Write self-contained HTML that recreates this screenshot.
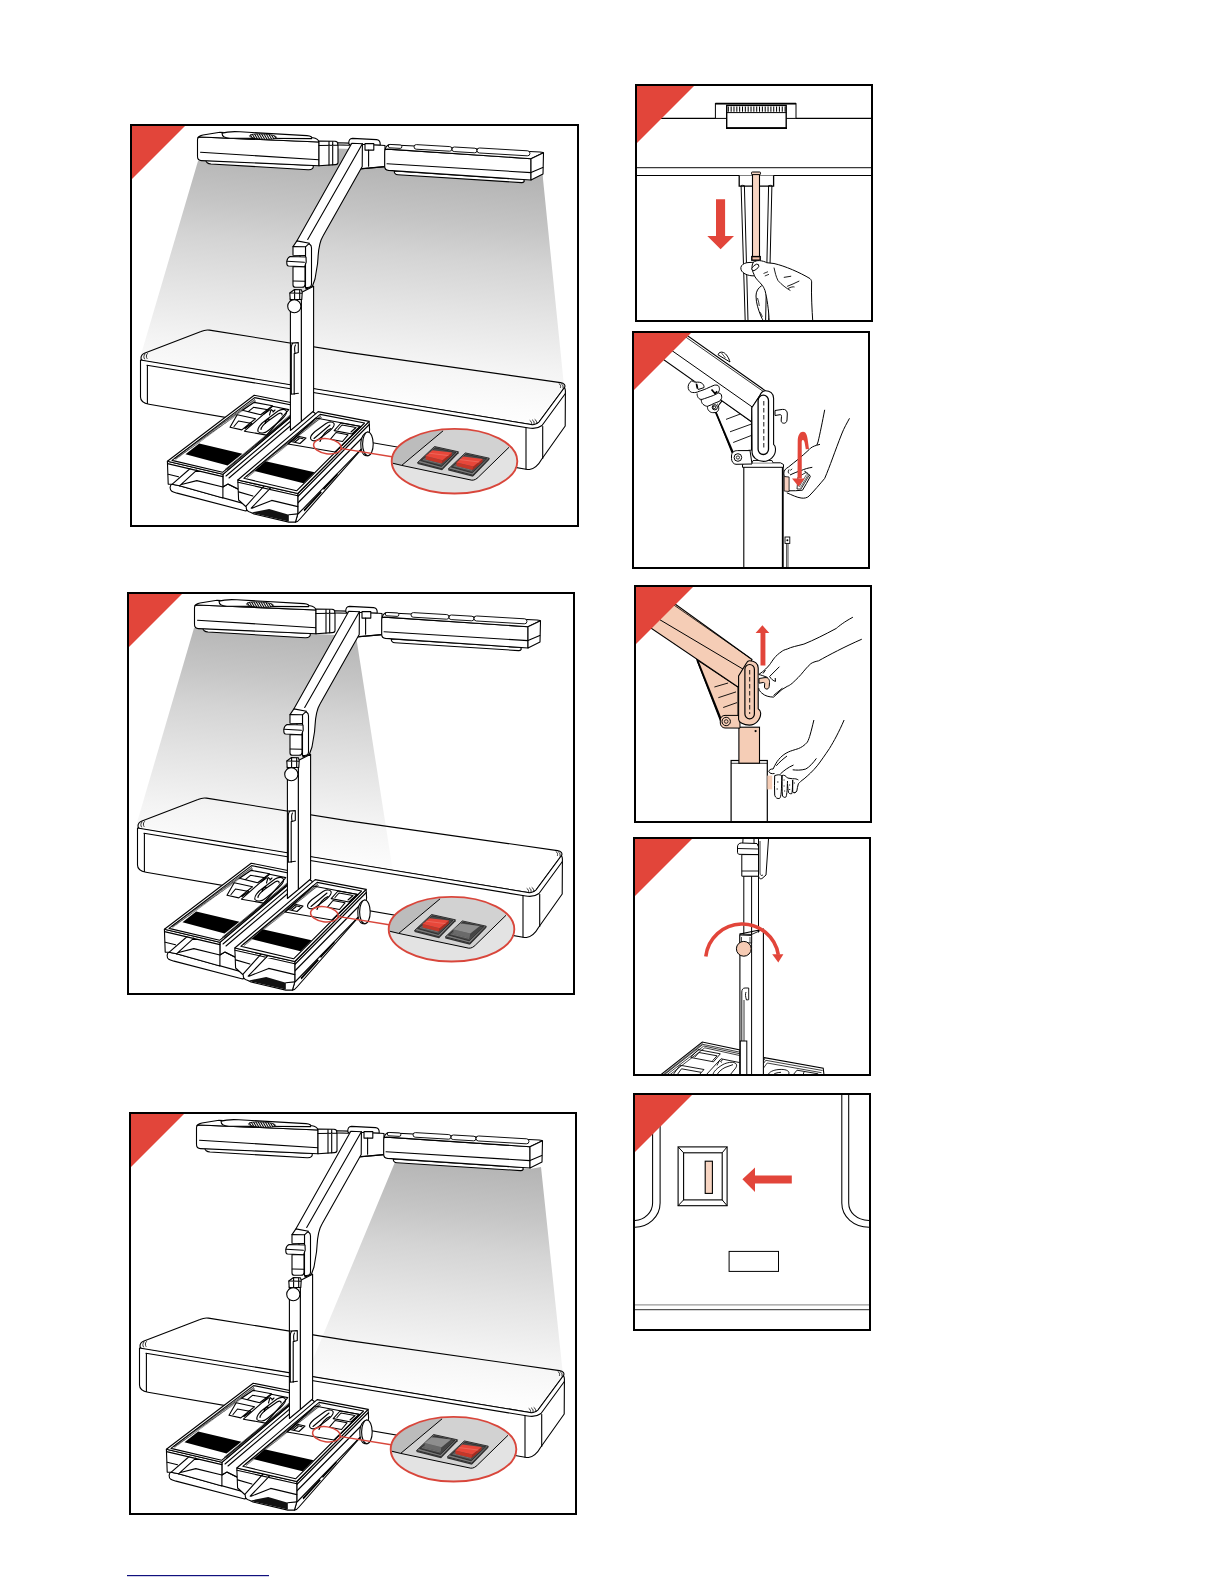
<!DOCTYPE html>
<html><head><meta charset="utf-8"><title>Manual page</title>
<style>
html,body{margin:0;padding:0;background:#fff;width:1224px;height:1584px;overflow:hidden;font-family:"Liberation Sans",sans-serif}
svg{position:absolute;left:0;top:0}
.k{fill:none;stroke:#000;stroke-width:1.1;stroke-linejoin:round;stroke-linecap:round}
.w{fill:#fff;stroke:#000;stroke-width:1.1;stroke-linejoin:round;stroke-linecap:round}
.t{fill:none;stroke:#000;stroke-width:0.8;stroke-linecap:round}
.b{fill:#000;stroke:none}
.frame{fill:none;stroke:#000;stroke-width:2}
.red{fill:#e2453a}
</style></head>
<body>
<svg width="1224" height="1584" viewBox="0 0 1224 1584">
<defs>
 <linearGradient id="lg" gradientUnits="userSpaceOnUse" x1="230" y1="40" x2="207.5" y2="290">
  <stop offset="0" stop-color="#b4b4b4"/>
  <stop offset="0.2" stop-color="#c5c5c5"/>
  <stop offset="0.344" stop-color="#d4d4d4"/>
  <stop offset="0.544" stop-color="#e4e4e4"/>
  <stop offset="0.64" stop-color="#ebebeb"/>
  <stop offset="0.76" stop-color="#f4f4f4"/>
  <stop offset="0.92" stop-color="#fcfcfc"/>
  <stop offset="1" stop-color="#ffffff"/>
 </linearGradient>
 <pattern id="hp" patternUnits="userSpaceOnUse" width="1.6" height="4" patternTransform="rotate(20)"><rect width="1.6" height="4" fill="#fff"/><rect width="0.8" height="4" fill="#000"/></pattern>
 <clipPath id="rc"><rect x="1" y="1" width="236" height="236"/></clipPath>
 <!--DEVICE-->
 <g id="dev">
  <!-- TABLE top outline (transparent top surface) -->
  <path class="k" d="M11,234 C11,231.5 12.5,230 15,229 L71,207.5 C73.5,206.3 76.5,205.6 79.5,206.1 L220,228.6 L430.5,258.6 C434,259.2 435.8,261 434.5,263.5 L409,298 C407,300.5 404,301 401,300.5 L15,237.4 C12.5,237 11,236 11,234 Z"/>
  <!-- TABLE front + right side faces -->
  <path class="w" d="M10.5,236 L401,300.5 C404,301 407,300.5 409,298 L434.5,263.5 C435.3,265 435.5,266.5 435.4,268 L435.2,302 L411.5,335.5 C408.5,341 405,344.5 399.5,345.5 L397.5,345.5 L19,280.2 C14,279.4 10.5,277.5 10.5,273 Z"/>
  <path class="k" d="M17,241.2 L398.8,304 C403,304.8 408,304.5 412,301.5 L435.2,269.7"/>
  <path class="k" d="M17.4,241.5 L17.4,279.5"/>
  <path class="k" d="M396,304 L396,345"/>
  <path class="k" d="M412.7,302.5 L412.7,334.5"/>
  <path class="t" d="M429,259.5 C430.5,260.5 431,262 430.5,263.5 M431.5,259.9 C433,261 433.5,262.5 433,264 M400,296.5 C401.5,297.5 402,299 401.5,300.5 M402.5,296 C404,297 404.5,298.5 404,300 M405,295.5 C406.5,296.5 407,298 406.5,299.5 M15,230 C13.5,231.5 13.5,233.5 14.5,235 M17.5,229.5 C16,231 16,233 17,234.5"/>

  <!-- LEFT LAMP -->
  <path class="w" d="M76,36 L183,41.5 C184,44 182,46 178,45.7 L81,40 C78,39.7 75.5,38.2 76,36 Z"/>
  <path class="w" d="M67.5,15.5 C67.5,13.8 68.7,12.9 70.5,13 L189,18 L189,41.7 L71.5,36.6 C69,36.5 67.5,35 67.5,32.5 Z"/>
  <path class="w" d="M67.8,13.8 C68.5,12.3 70.5,11.4 73,11 L90,8.2 L183,13.8 C186,14.1 188.3,15.8 189,18 L70.5,13 Z"/>
  <path class="k" d="M70.5,28.2 L189,35.7"/>
  <path class="w" d="M92,9.2 C97,7.6 103,7.4 110,7.8 L177,11.6 C181,11.9 182.5,13.3 181.5,14.6 L100,14.2 C95,14 92,12.5 92,9.2 Z"/>
  <ellipse cx="133" cy="12.6" rx="13.6" ry="2.7" fill="url(#hp)" stroke="#000" stroke-width="0.8" transform="rotate(3.4 133 12.6)"/>
  <!-- left lamp end cap -->
  <path class="w" d="M189,17 L205,17.2 C207,17.3 208,18.5 208,20 L208,38.5 C208,39.8 207,40.5 205.5,40.6 L189,41.7 Z"/>
  <path class="k" d="M199,17.5 L199,41 M202.7,17.8 L202.7,40.8 M189,21.5 L207.5,21.2"/>
  <!-- connector left -->
  <path class="w" d="M207.8,18.8 L219.5,19.1 L219.5,21.2 L207.8,20.9 Z"/>

  <!-- HUB -->
  <path class="w" d="M228,44.8 L232.4,20 L255,21.5 L255,42.6 L232,44.6 Z" stroke="none"/>
  <path class="k" d="M228.6,39.5 L228.6,45.3 L232.5,44.8 L255,42.6"/>
  <path class="w" d="M218.8,19.5 C218.6,16.2 219.8,14.4 222.5,14.4 L246.5,15.6 C248.8,15.8 250.2,17.5 250.2,20 L250.2,21 L218.8,20 Z"/>
  <rect class="w" x="235" y="19.6" width="8.8" height="6.5"/>
  <path class="k" d="M238.6,26.1 L238.6,42.3"/>
  <!-- RIGHT LAMP -->
  <path class="w" d="M264.3,47 L393.5,55.5 C395,57 394,58.7 391.5,58.6 L268,50.7 C265.5,50.5 264,49 264.3,47 Z"/>
  <path class="w" d="M254.7,27.5 C254.7,25.8 255.8,25 257.5,25.1 L401,34.7 L401,56 L258.5,46.4 C256.3,46.2 254.7,44.8 254.7,42.5 Z"/>
  <path class="w" d="M255,25.5 C255.5,23.4 256.8,21.5 258.5,20.7 L410,28 C412,28.2 413.5,28.5 413.5,28.8 L401,34.7 L257.5,25.1 Z"/>
  <path class="w" d="M401,34.7 L413.5,28.8 L413,50 L401,56 Z"/>
  <path class="k" d="M257,39.8 L401,48.6 L412.8,43.5"/>
  <rect x="258.3" y="20.7" width="13.6" height="3.4" rx="1.7" fill="#fff" stroke="#000" stroke-width="0.9" transform="rotate(3.2 265 22.4)"/>
  <rect x="284" y="21.6" width="38" height="4.6" rx="2.3" fill="#fff" stroke="#000" stroke-width="0.9" transform="rotate(3.4 303 23.9)"/>
  <rect x="322" y="23.6" width="25" height="4.6" rx="2.3" fill="#fff" stroke="#000" stroke-width="0.9" transform="rotate(3.4 334.5 25.9)"/>
  <rect x="347" y="25.4" width="53" height="5" rx="2.5" fill="#fff" stroke="#000" stroke-width="0.9" transform="rotate(3.4 373.5 27.9)"/>

  <!-- ARM -->
  <path class="w" d="M221.8,19.3 L232.4,19.8 L232.2,42.5 L193,112 C190,117 188.5,124 188,134 L187.5,140 L185,155 L182.3,162.5 L176,165 L167.1,116.5 Z"/>
  <path class="k" d="M232.4,19.8 L177.7,115.4"/>
  <!-- elbow clamp -->
  <path class="w" d="M175.5,121 C176.5,119.8 178.5,119.5 180,120.5 C181,121.2 181.5,122.5 181.5,124 L181.5,160 C181.5,162.5 179.5,163.5 177.5,163.5 L175.5,163.5 Z"/>
  <path class="w" d="M163,122.6 L166.9,116.9 L179.5,119.2 L175.5,122.8 L175.5,131.5 L163,131.2 Z"/>
  <path class="k" d="M163,122.6 L175.5,122.8"/>
  <path class="w" d="M163,142.5 L175,142.8 L175,160.5 C175,162.5 174,163.3 172,163.3 L165.5,163.3 C164,163.3 163,162.3 163,161 Z"/>
  <path class="k" d="M163.3,157 L174.7,157.3"/>
  <path class="w" d="M156.8,137.5 C157,135 158.2,133.4 160,132.5 L176,133 L176.2,138 L174.6,142.8 L158.5,142 C157.4,141.8 156.8,140.5 156.8,139 Z"/>
  <path class="k" d="M157.2,137.3 L174.4,138.2"/>

  <!-- LEFT TRAY -->
  <!-- base strip between trays -->
  <path class="w" d="M92.9,350.3 L174.6,281.3 L186,290 L110,360 L108,365 L97.8,360.1 L92.9,363 Z"/>
  <path class="k" d="M96,352 L176,284 M99,354 L178.5,286.5"/>
  <!-- long bottom bar -->
  <path class="w" d="M42,360.3 C39.8,361 39.3,365.5 41.8,367.3 C43,368.2 45,368.6 47,369.1 L114.7,386.8 C116.8,387.2 118.5,386 118.3,384 L117.6,380.6 L49.5,361.8 Z"/>
  <!-- front face -->
  <path class="w" d="M37.4,337.2 L92.9,350.3 L92.9,374 L49.5,361.8 L42,360.3 L38.2,360.1 Z"/>
  <path class="k" d="M37.5,339.6 L92.9,352.6 M38.2,350.3 L48.5,352.8 M60.2,344.5 L42,360.3 M66.8,346.1 L49.5,361.8 M51.5,360.5 L66.8,356.6 L92.9,363 L97.8,360.1 L107.6,365"/>
  <!-- top face -->
  <path class="w" d="M37.4,337.2 L124.2,271.2 L174.6,281.3 L92.9,350.3 Z"/>
  <path class="k" d="M42,336.4 L124.6,273.6 L171.5,283 L92.6,348.3 Z"/>
  <path d="M45.3,334.9 L125.4,276.5" stroke="#222" stroke-width="2" stroke-dasharray="0.7 0.5" fill="none"/><path d="M44,334.6 L125,275.2" stroke="#000" stroke-width="0.6" fill="none"/>
  <path d="M95,345.5 L167,285.2 M97,345.8 L168.5,285.9" stroke="#000" stroke-width="0.6" fill="none"/>
  <path class="b" d="M55.5,330.2 L69.2,319.4 L112.4,329.7 L97.6,341.5 Z"/>
  <!-- compartments left tray -->
  <path class="k" d="M112.4,286.3 L124.2,278.4 L142.5,281.7 L130.7,290.8 Z M118.3,287.6 L123.5,283.3 L139.5,286 L134,290"/>
  <path class="k" d="M100,303.3 L107.2,290.8 L125.5,294.8 L111.8,305.9 Z M104,302.5 L108.5,297 L122,299.5 L115,304.5"/>
  <path class="k" d="M114.4,307.2 L142.5,282.3 L158.8,285.6 L136.6,311.1 Z"/>
  <path class="k" d="M128,307.5 C127,305 130,300 136,296 L148,287 C152,284.5 156,285 156.5,287.5 C157,289.5 155,292.5 151,296 L139,306 C135,309.5 130,310 128,307.5 Z M131,305.5 C131,303 134,300 138,297 L148,290 C150.5,288.5 152.5,289 152,291 M135.5,299.5 C134.5,298 136,296 139,295"/>
  <path class="k" d="M139.5,291 L141,285.5 L143,287 M143,288 L145,286"/>
  <!-- POLE -->
  <path class="w" d="M171.3,168.5 L183.6,162.3 L183.6,287 L171.3,297.5 Z"/>
  <path class="w" d="M160.4,174 L171.3,174 L171.3,297.5 L160.4,306.5 Z"/>
  <path class="w" d="M159.8,169 L164.5,165.5 L171.5,165.8 L172.2,168.5 L171.8,175.5 L160.2,175.5 Z"/><path class="k" d="M164.6,166 V175.5 M169.7,166 V175.5 M160,169 L171.8,169.3"/>
  <circle class="w" cx="164.3" cy="182.2" r="6.6"/>
  <path class="k" d="M163.5,219 C162,219.5 161.3,221.5 161.3,224 L161.3,270 M161.3,219 L168.3,218.6 L168.3,228.5 L165,229.5 C164.5,226 164,223 165.5,221 M164.2,229.5 L164.2,270.5 M161.3,270.2 L168.4,269.3"/>

  <!-- RIGHT TRAY -->
  <!-- right side face -->
  <path class="w" d="M167.8,369.5 L239.1,297.4 L239.6,306 C239.6,308 239,309.5 238,311 L234.8,321.3 L170,395 C168.5,397 167,398 165.4,398.1 L167.8,389.9 Z"/>
  <path class="k" d="M167.8,372.5 L239.3,300.5 M167.8,379 L236,310 M168.5,389.5 L234.8,321.3"/>
  <path class="b" d="M173.5,385.8 L190.7,367 L191.8,368.5 L174.5,387.4 Z M193,364.5 L207,349.5 L207.9,350.8 L193.9,366 Z"/>
  <!-- front -->
  <path class="w" d="M107.8,356 L167.8,369.5 L167.8,389.9 L165.4,398.1 L158.8,398.1 L124,390 L120.4,388.3 C117.5,387.5 116,385.5 116.3,383 L108.6,376 Z"/>
  <path d="M122,388.4 L139.2,385 L158.8,390.7 L158.8,397.6 L124,389.6 Z" fill="#111"/>
  <path class="k" d="M108,358.2 L167.8,371.8 M108.6,367.9 L122.9,372 M133.5,362.6 L116.3,381.8 M140.4,364.2 L121.2,384.2 M122.1,384.2 L141.7,376.4 L167.8,382.6 M158.8,390.7 L167.8,389.9"/>
  <!-- top face -->
  <path class="w" d="M107.8,356 L188.2,287.6 L239.1,297.4 L167.8,369.5 Z"/>
  <path class="k" d="M113.8,354.3 L190.2,290.4 L234.6,299 L166.6,366.8 Z"/>
  <path d="M116.8,352.9 L191.4,292.8" stroke="#222" stroke-width="2" stroke-dasharray="0.7 0.5" fill="none"/><path d="M115.8,352.5 L190.9,291.8" stroke="#000" stroke-width="0.6" fill="none"/>
  <path class="b" d="M124.5,347.1 L135.5,337.3 L184.6,348.3 L173.5,359.3 Z"/>
  <!-- compartments right tray -->
  <path class="k" d="M158,320 L186,294 L231,302.5 L205,328 Z"/>
  <path class="w" d="M181,315.5 C179.5,313.5 181,311 185,307.5 L196,299.5 C199.5,297.3 203,297.5 204,299.5 C205,301.5 203,304 199.5,307 L189,315 C186,317.3 182.5,317.5 181,315.5 Z"/>
  <path class="k" d="M184,314.5 L200,301"/>
  <path class="k" d="M190,317.5 C192,311 197,306 201,304.5"/>
  <path class="w" d="M161,317.5 L167,312 L176,314 L170,319.5 Z"/>
  <path class="k" d="M163.5,317 L167.5,313.5 L173,314.8 M165,318 L169,314.8"/>
  <path class="k" d="M204.2,306.6 L211,299 L229.9,302.3 L222,310 Z M208,305.5 L212,301 L226,303.5 L221,308"/>
  <path class="k" d="M200.5,315.2 L206,308.5 L218,310.8 L212.5,317.5 Z"/>
  <!-- knob cylinder on right of right tray -->
  <path class="w" d="M237.7,308 C234,308.5 231,313 230.8,319 C230.6,325.5 232.5,331 236,331.8 L238,331.8 Z"/>
  <ellipse class="w" cx="237.9" cy="319.9" rx="5.3" ry="11.9"/>
 </g>
 <!--/DEVICE-->
 <!--CALLOUT-->
 <clipPath id="cc"><ellipse cx="324.5" cy="337.2" rx="62.3" ry="31.8"/></clipPath>
 <g id="callout">
  <path d="M210.5,324.4 L262,332.8" stroke="#d8463b" stroke-width="1.4" fill="none"/>
  <ellipse cx="197.4" cy="322.3" rx="13.9" ry="7.5" transform="rotate(8 197.4 322.3)" fill="none" stroke="#d8463b" stroke-width="1.5"/>
  <g clip-path="url(#cc)">
   <rect x="255" y="300" width="140" height="75" fill="#e3e3e3"/>
   <path d="M313.1,306.8 L318,298 L395,298 L395,316.5 L379,323.3 L348.5,353 C346.5,355 344.5,356.3 341.8,356.2 L271.7,341.4 Z" fill="#d2d2d2"/>
   <path d="M250,296 L318,296 L313.1,306.8 L271.7,341.4 L255,339 Z" fill="#bcbcbc"/>
   <path d="M262.7,339.2 L271.7,341.4 L341.8,356.2 C344.5,356.3 346.5,355 348.5,353 L379,323.3" fill="none" stroke="#000" stroke-width="1"/>
   <path d="M313.1,306.8 L271.7,341.4" fill="none" stroke="#000" stroke-width="1"/>
  </g>
  <ellipse cx="324.5" cy="337.2" rx="62.8" ry="32.3" fill="none" stroke="#d8463b" stroke-width="1.9"/>
 </g>
 <g id="swbase">
  <path d="M287.5,338.5 L304.5,322.5 L328.5,327.8 L312,344.8 Z" fill="#7a7a7a" stroke="#111" stroke-width="0.8" stroke-linejoin="round"/>
  <path d="M287.5,338.5 L312,344.8 L312,346.3 L287.5,340 Z" fill="#333"/>
  <path d="M312,344.8 L328.5,327.8 L328.5,329.3 L312,346.3 Z" fill="#222"/>
  <path d="M290.5,336.6 L305,323.8 L326,328.4 L311.4,342.4 Z" fill="#4a4a4a" stroke="#111" stroke-width="0.6"/>
  <path d="M293,335.5 L311.2,340 M294.5,334.5 L311.2,338.6" stroke="#999" stroke-width="0.5" fill="none"/>
 </g>
 <g id="swOn">
  <use href="#swbase"/>
  <path d="M295.5,332 L312.5,336.2 L311.8,339.6 L295.8,335.6 Z" fill="#c63628"/>
  <path d="M312.5,336.2 L322,328.5 L321.6,331.6 L311.8,339.6 Z" fill="#a82a1e"/>
  <path d="M295.5,332 L302.5,326.2 L322,328.5 L312.5,336.2 Z" fill="#e8473a"/>
  <path d="M299,329.2 L318.5,331.6" stroke="#f07a6e" stroke-width="0.6" fill="none"/>
 </g>
 <g id="swOff">
  <use href="#swbase"/>
  <path d="M295.5,331 L312.5,335.2 L311.8,339.6 L295.8,335.6 Z" fill="#6a6a6a"/>
  <path d="M312.5,335.2 L322,327.5 L321.6,331.6 L311.8,339.6 Z" fill="#444"/>
  <path d="M295.5,331 L302.5,325.2 L322,327.5 L312.5,335.2 Z" fill="#8e8e8e"/>
 </g>
 <!--/CALLOUT-->
</defs>

<!-- ===== Panel 1 ===== -->
<g transform="translate(130,124)">
 <path d="M68,37 L76,36.5 L76,20 L400,31 L412,33 L413,55 L434,262 L402,304 L10,234 Z" fill="url(#lg)"/>
 <use href="#dev"/>
 <use href="#callout"/><use href="#swOn"/><use href="#swOn" transform="translate(30.8,6.4)"/>
</g>
<!-- ===== Panel 2 ===== -->
<g transform="translate(127,592)">
 <path d="M67,36 L189,42 L229,44 L266,280 L9,234 Z" fill="url(#lg)"/>
 <use href="#dev"/>
 <use href="#callout"/><use href="#swOn"/><use href="#swOff" transform="translate(30.8,6.4)"/>
</g>
<!-- ===== Panel 3 ===== -->
<g transform="translate(129,1112)">
 <path d="M265.6,51 L401,57 L412,55 L434,263 L404,304 L177,264 Z" fill="url(#lg)"/>
 <use href="#dev"/>
 <use href="#callout"/><use href="#swOff"/><use href="#swOn" transform="translate(30.8,6.4)"/>
</g>

<!--RIGHT-->
<!-- ===== R1 ===== -->
<g transform="translate(635,84)" clip-path="url(#rc)">
 <path d="M2,34.4 H80.4 M161,34.4 H236" stroke="#000" stroke-width="1.1" fill="none"/>
 <rect x="80.4" y="19.6" width="80.6" height="14.8" fill="#fff" stroke="#000" stroke-width="1"/>
 <path d="M80.4,19.6 H161" stroke="#000" stroke-width="1.8"/>
 <rect x="91.7" y="21.4" width="59.5" height="22.7" fill="#fff" stroke="#000" stroke-width="1.4"/>
 <path d="M91,44.1 H152" stroke="#000" stroke-width="1.8"/>
 <path d="M91.5,28.6 H151.4" stroke="#000" stroke-width="1"/>
 <path stroke="#000" stroke-width="1.05" d="M93.30,22.4v5.4M96.14,22.4v5.4M98.98,22.4v5.4M101.82,22.4v5.4M104.66,22.4v5.4M107.50,22.4v5.4M110.34,22.4v5.4M113.18,22.4v5.4M116.02,22.4v5.4M118.86,22.4v5.4M121.70,22.4v5.4M124.54,22.4v5.4M127.38,22.4v5.4M130.22,22.4v5.4M133.06,22.4v5.4M135.90,22.4v5.4M138.74,22.4v5.4M141.58,22.4v5.4M144.42,22.4v5.4M147.26,22.4v5.4M150.10,22.4v5.4"/>
 <path d="M2,83.7 H236" stroke="#3a3a3a" stroke-width="1.3"/>
 <path d="M2,91.5 H236" stroke="#000" stroke-width="1.05"/>
 <path d="M104.2,91.5 V102.1 H138.6 V91.5" fill="#fff" stroke="#000" stroke-width="1.3"/>
 <path d="M106.1,102 L110.2,237 M109.4,102 L113,237 M136.9,102 L133.7,237 M133.6,102 L130.6,237" stroke="#000" stroke-width="1" fill="none"/>
 <path d="M105.5,102.3 C106,101 109,101 110,102.3 M133,102.3 C134,101 137,101 137.6,102.3" stroke="#000" stroke-width="0.9" fill="none"/>
 <rect x="117.5" y="89.2" width="7" height="86" fill="#f8d5c2" stroke="#000" stroke-width="1.1"/>
 <rect x="116.5" y="88" width="9" height="2.6" rx="0.8" fill="#f8d5c2" stroke="#000" stroke-width="1"/>
 <rect x="116.8" y="172.6" width="8.4" height="3.6" fill="#f2c0a8" stroke="#000" stroke-width="1.4"/>
 <path d="M81,115.2 H90.1 V152.1 H99 L85.6,165.2 L72.3,152.1 H81 Z" fill="#e2453a"/>
 <!-- hand -->
 <path d="M117,191.8 C114,191.6 110.4,190.6 108,188.5 C105.8,186.7 105.2,183.8 106.5,181.8 C108,179.6 111,178.6 114,178.5 L118,178.3 C120,177.2 122.5,176.4 124.3,176.6 C127,176.8 130,177.6 131.7,178.7 L139,179.5 C150,182 165,188.5 175,194.6 C176.5,196 176.8,197.5 176.6,199 C176.2,212 177,226 177.8,238 L134.2,238 C133.8,226 132,214 130,206.5 C128.9,203.5 128,202.5 127.6,201.6 C124,197.5 121,195 119.4,191.8 Z" fill="#fff" stroke="#000" stroke-width="1"/>
 <path d="M118.5,178.3 C116.8,180 116.6,184 117.6,187 C118.5,189.8 119.5,191 119.4,191.8" stroke="#000" stroke-width="1" fill="none"/>
 <ellipse cx="120.3" cy="183.4" rx="4.2" ry="2.2" transform="rotate(-40 120.3 183.4)" fill="#fff" stroke="#000" stroke-width="0.9"/>
 <path d="M126.8,201.6 C123,204 121,207.5 121,212 C121,219 123.5,226 125.5,231 C126.5,233.5 127.5,235.5 128.4,237" stroke="#000" stroke-width="1" fill="none"/>
 <path d="M122.5,214 C123.5,217 124,219.5 124.3,222 M124.8,228 C126,229.5 127,231 127.2,233" stroke="#000" stroke-width="0.8" fill="none"/>
 <path d="M139,183.6 C140,188 141,193 143.1,196.7 C147,201 151,204 155.4,206.5 M148.8,193.4 L156.2,192.2 M152.1,202.4 C156,201 160,199 164.3,197 M153,204.5 C156,203 158,202.5 159.5,203" stroke="#000" stroke-width="0.9" fill="none"/>
 <path d="M128.5,189.5 L133,187.7 M129.8,192 L134,190.3" stroke="#000" stroke-width="0.8" fill="none"/>
</g>

<!-- ===== R2 ===== -->
<g transform="translate(632,331)" clip-path="url(#rc)">
 <!-- pole -->
 <rect x="111.8" y="135.3" width="39.2" height="103" fill="#fff" stroke="#000" stroke-width="1.1"/>
 <path d="M150.6,136 V236" stroke="#000" stroke-width="1.5"/>
 <path d="M110.5,133.5 L113,131.8 H148.5 L151.5,133.5 V136.3 H110.5 Z" fill="#fff" stroke="#000" stroke-width="1"/>
 <path d="M120,131.8 L121,129.5 H140 L141,131.8" fill="#fff" stroke="#000" stroke-width="0.9"/>
 <rect x="153" y="206" width="4.8" height="6.4" fill="#fff" stroke="#000" stroke-width="0.9"/>
 <circle cx="155.4" cy="209.2" r="1" fill="#000"/>
 <path d="M154.6,212.7 V236 M156,212.7 V236" stroke="#000" stroke-width="0.7"/>
 <!-- brace -->
 <path d="M83,79 L90.2,69.6 L119.5,90.7 L119.5,119 L100,121.6 Z" fill="#fff" stroke="#000" stroke-width="1.1"/>
 <path d="M83.5,80.6 L100.8,121.2" stroke="#000" stroke-width="1.8"/>
 <path d="M94,88.4 L108.1,83.1 M98,100.8 L119,93.2 M101.2,111.5 L119,104.6" stroke="#000" stroke-width="0.9"/>
 <!-- arm -->
 <path d="M46,-2 L133.4,59.7 L127.7,64.8 L119.8,76.8 L119.5,90.7 L2,7.7 L2,-2 Z" fill="#fff" stroke="#000" stroke-width="1.1"/>
 <path d="M46,0.6 L132.3,61.2" stroke="#000" stroke-width="0.8"/>
 <path d="M16,2.8 L125.8,79.9" stroke="#000" stroke-width="1"/>
 <path d="M86,23.8 C86.5,21.5 89,20.5 91.5,21.5 C94,22.5 97,27 98,31 Z" fill="#fff" stroke="#000" stroke-width="1"/>
 <path d="M89.5,22 L93.5,27" stroke="#000" stroke-width="0.7"/>
 <!-- hand on arm -->
 <path fill="#fff" stroke="none" d="M59.8,49.8 L64,51 L72,53 L82.3,54.2 L87.2,59.6 L89.7,66.5 L87.2,70.4 L86.7,76.3 L85.3,80.7 L80.4,81.6 L76.4,79.2 L75.5,75.3 L71,73.3 L69.1,68.9 L65.2,62.5 L60.7,61.5 L56.3,57.6 Z"/>
 <path stroke="#000" stroke-width="1" fill="none" d="M59.8,49.8 C57,51.5 55.6,54.5 56.3,57.6 C57.2,60.3 59,61.5 60.7,61.5 C63,61.8 65,61.3 66.6,60.6 M59.8,49.8 C61,50.5 62.5,51.2 63.7,51.3 C66,50.8 69,51.2 70.5,52.7 C71.8,54 72.2,55.5 72,56.6 M64.2,52.5 C64.8,54.5 65.5,57 66.2,58.5 L72,56.6 M66.1,60.6 C70,59.5 72.5,58.5 74.5,57.6 C77,56.5 80,55 82.3,54.2 C84.5,53.8 86.2,54.2 86.7,55.2 C87.6,57 87.6,58.5 87.2,59.6 C86.8,61 86,62 85.3,62.5 C83.5,63.3 82.5,64 81.3,64.5 C77,66 73,67.5 70,68.4 C68.5,68.6 67,68 66.1,66.5 C65.2,65 65,63.5 65.2,62.5 M69.1,68.9 C69.5,71 70,72.5 71,73.3 C72.5,74.5 74,75.3 75.5,75.3 C78,74.5 80.5,73.2 82.3,72.3 C84,71.5 86,71 87.2,70.4 C88.5,69.5 89.5,68 89.7,66.5 C89.8,64.5 89.2,63 88.2,62.5 C87,62 86,61.9 85.3,62 M75.5,75.3 C75.3,77 75.7,78.3 76.4,79.2 C77.5,80.7 79,81.6 80.4,81.6 C82.5,81.8 84.5,81.5 85.3,80.7 C86.5,79.5 86.9,78 86.7,76.3 C86.5,74.5 86,73.2 85.3,72.8"/>
 <path stroke="#000" stroke-width="1.7" fill="none" d="M79.5,58.5 L83,62.5 L85.2,60.3 M64.5,53 L65.5,57.5"/>
 <circle cx="82.8" cy="76.3" r="2.6" fill="none" stroke="#000" stroke-width="1"/>
 <circle cx="82.3" cy="76.3" r="1.3" fill="none" stroke="#000" stroke-width="1"/>
 <!-- pivot plate -->
 <path d="M99.5,125 C99.5,121.5 102,119.6 105.5,119.6 L118,119.6 L120,133 L104,133.3 C101.5,133.3 99.5,130.5 99.5,127.5 Z" fill="#fff" stroke="#000" stroke-width="1"/>
 <circle cx="105.9" cy="126.5" r="3.8" fill="#fff" stroke="#000" stroke-width="1"/>
 <circle cx="105.9" cy="126.5" r="1.6" fill="none" stroke="#000" stroke-width="0.8"/>
 <!-- joint capsule -->
 <path d="M127.7,64.8 C129,61.5 131,59.7 133.4,59.7 C138,59.7 141.6,62.5 141.6,67.3 L141.6,113.4 C143,114.5 143.6,116.5 143.5,118.4 C143.5,125 138,130.4 131.5,130.4 C125,130.4 120.1,126 120.1,121.6 L119.8,76.8 Z" fill="#fff" stroke="#000" stroke-width="1.1"/>
 <rect x="126.1" y="64.2" width="10.4" height="59.3" rx="5.2" fill="#fff" stroke="#000" stroke-width="1.3"/>
 <path d="M131.8,70 V118" stroke="#000" stroke-width="0.9" stroke-dasharray="4.5 2.5"/>
 <!-- hook -->
 <path d="M143,79.5 L150.5,78.4 C153.5,78 155.5,80 155.3,83 L155,89 C154.8,91.5 153,92.5 151.5,92.2 C150,92 149,91 149.2,89 L149.5,85.5 C149.6,84.3 149,83.6 148,83.7 L143,84.5 Z" fill="#fff" stroke="#000" stroke-width="1"/>
 <!-- right hand -->
 <path d="M192.7,78.8 C190.5,90 188,103 186,111 L184.8,114.1 C182,115 178.5,116.5 177,118.7 C173.5,122 170,125 166.5,128 C163.5,130.5 160,133 156.5,136 C153.5,137.5 151.5,140 151.8,143 C152.3,145.5 153.5,146.5 154.8,147 L154.8,161.8 C160,164 165,166.5 169.1,167 C172,167.5 175,167 177,165.1 C182,160 188,153 192.7,147.4 C198,135 203,120 209.7,103 C212,97 215,92 217.5,87.3 Z" fill="#fff" stroke="none"/>
 <path d="M192.7,78.8 C190.5,90 188,103 186,111 L184.8,114.1 M188,113.3 L184.6,114.3 C182,115 178.5,116.5 177,118.7 C173.5,122 170,125 166.5,128 C163.5,130.5 160,133 156.5,136 C153.5,137.5 151.5,140 151.8,143 C152.3,145.5 153.5,146.5 154.8,147 M217.5,87.3 C215,92 212,97 209.7,103 C203,120 198,135 192.7,147.4 C188,153 182,160 177,165.1 C175,167 172,167.5 169.1,167 C165,166.5 160,164 154.8,161.8 M180.3,136.3 C176,137 172.5,138 169.1,139.6 C166,140.5 162,142 158,144 M172.4,140.2 C175,141.5 177.5,143.5 178.3,145.5 C176,150 173,155 170.5,159.2 C166,159.6 161,160 156.1,159.8 M157,138.5 C156,140 156,141.5 157,142.5 M158.3,139.5 L160,137.8" stroke="#000" stroke-width="1" fill="none"/>
 <path d="M152.2,145.5 L157.1,146 L157.1,160.5 L152.2,160 Z" fill="#f8d0c0" stroke="#000" stroke-width="0.8"/>
 <path d="M166,146 L174,141.5 L177,144.5 L169,158 L165,158 Z" fill="#fff" stroke="#000" stroke-width="0.8"/>
 <path d="M167,156 L174.5,143.5 M168.5,156.5 L175.8,144.3" stroke="#000" stroke-width="0.6"/>
 <!-- red U arrow -->
 <path d="M165.5,147.6 L165.7,110 C165.8,104 168,100.7 171,100.7 C174,100.7 175,104 175.6,108 L177,118 L173.8,118.3 L172.6,111.5 C172.2,109.6 171.6,108.9 170.8,108.9 C170,108.9 169.7,110 169.7,112 L169.8,147.6 Z" fill="#e2453a"/>
 <path d="M160,147.4 L172.7,147.4 L166.5,155.5 Z" fill="#e2453a"/>
</g>

<!-- ===== R3 ===== -->
<g transform="translate(634,585)" clip-path="url(#rc)">
 <!-- pole lower -->
 <rect x="97.1" y="175.5" width="36.2" height="62" fill="#fff" stroke="#000" stroke-width="1.2"/>
 <path d="M97.1,178.3 H133.3" stroke="#000" stroke-width="0.8"/>
 <!-- pole upper -->
 <rect x="104.9" y="142.2" width="20.6" height="36" fill="#f5cdb6" stroke="#000" stroke-width="1.1"/>
 <circle cx="121.6" cy="146.1" r="1.1" fill="#000"/>
 <!-- brace -->
 <path d="M62.7,74.5 L104,102 L104,133.3 L86.3,135.3 Z" fill="#f5cdb6" stroke="#000" stroke-width="1.1"/>
 <path d="M63.5,75.5 L87.2,135" stroke="#000" stroke-width="1.9"/>
 <path d="M80.4,102 L94.1,98 M84.3,112.7 L102,106.9 M89.2,122.5 L103,117.6" stroke="#000" stroke-width="0.9"/>
 <!-- arm -->
 <path d="M12,-2 L118,74.5 L104,102 L2,33 L2,-2 Z" fill="#f5cdb6" stroke="#000" stroke-width="1.1"/>
 <path d="M13,1.3 L116,73" stroke="#000" stroke-width="0.8"/>
 <path d="M12,26.5 L112.7,86.3" stroke="#000" stroke-width="1"/>
 <!-- pivot plate -->
 <path d="M86.3,135 C86.3,132.3 88.3,130.4 91,130.4 L105.9,130.4 L106,143.1 L91,143 C88.3,143 86.3,140.5 86.3,138 Z" fill="#f5cdb6" stroke="#000" stroke-width="1"/>
 <circle cx="92.2" cy="136.5" r="4.2" fill="#f5cdb6" stroke="#000" stroke-width="1"/>
 <circle cx="92.2" cy="136.5" r="1.8" fill="none" stroke="#000" stroke-width="0.8"/>
 <!-- joint capsule -->
 <path d="M112.8,77.6 C113.5,76.3 114.5,75.7 115.4,75.7 C120.5,75.7 124.2,78.5 124.2,83 L124.2,123.7 C125.8,124.8 126.7,126.3 126.7,128.1 C126.7,134.8 121.5,140.1 115.4,140.1 C109.5,140.1 104.6,137 104.6,134.4 L104.6,90.9 Z" fill="#f5cdb6" stroke="#000" stroke-width="1.1"/>
 <rect x="110.9" y="79.5" width="9.5" height="54.3" rx="4.75" fill="#f5cdb6" stroke="#000" stroke-width="1.2"/>
 <path d="M115.7,85 V129" stroke="#000" stroke-width="0.9" stroke-dasharray="4.5 2.5"/>
 <!-- red arrow up -->
 <path d="M126.5,80.4 V48 H121.6 L128.4,40.2 L135.3,48 H131.4 V80.4 Z" fill="#e2453a"/>
 <!-- upper hand -->
 <path fill="#fff" stroke="none" d="M218.9,32.2 L202.3,43.4 L169.9,59.1 L153.3,64 L148.4,66 L140.5,72.8 L135.6,79.7 L128.7,86.6 L124.8,89.5 L124.8,103.2 L127.8,108.1 L139.5,112.1 L148,104.5 L153.3,101.3 L158.2,98.3 L167,89.5 L176.8,78.7 L184.6,75.8 L227.8,54.2 L240,40 L240,20 Z"/>
 <path stroke="#000" stroke-width="1" fill="none" d="M218.9,32.2 C210,37 205,41 202.3,43.4 C190,50 180,55 169.9,59.1 C163,61 157,62 153.3,64 C150,65 149,65.5 148.4,66 C144,69 142,71 140.5,72.8 C138,76 137,78 135.6,79.7 C133,83 130,85.5 128.7,86.6 L124.8,89.5 C127,90 130,91 133.6,92.5 M227.8,54.2 C210,62 195,70 184.6,75.8 C181,76.5 178.5,77.5 176.8,78.7 C173,82 170,86 167,89.5 C163,94 160,96.5 158.2,98.3 C156,100 154.5,101 153.3,101.3 L148,104.5 L139.5,112.1 C135,112 131,111 127.8,108.1 C126,106.5 125,105 124.8,103.2 M145.4,81.7 L135.6,91.5 C137,94 139.5,96 141.5,96.4 L141.2,93 M148.4,103.2 L139.5,110.5 M131.5,85 L129,88.5"/>
 <!-- hook (front of hand) -->
 <path d="M125,93.5 L131,92.6 C134,92.2 135.8,94.5 135.5,97.5 L135.2,101.5 C135,103.5 133.5,104.3 132.2,104 C131,103.7 130.3,102.8 130.5,101 L130.7,99 C130.8,98 130.2,97.4 129.3,97.5 L125,98.2 Z" fill="#f5cdb6" stroke="#000" stroke-width="1"/>
 <!-- lower hand -->
 <path fill="#fff" stroke="none" d="M179.9,135 L173.4,157.1 L164.4,163.6 L154.6,166.9 L146.4,172.6 L140.7,180.8 L139.1,184 L134.5,187 L140.7,190.6 L140.7,210.2 L145.6,213.4 L148.5,211 L152.1,211.8 L154.6,207.7 L157.9,208.5 L158.7,206.9 L161.9,206.9 L162.8,206.1 L164.4,198.7 L170.1,193.8 L183.2,180.8 L195.4,163.6 L210.1,135 Z"/>
 <path stroke="#000" stroke-width="1" fill="none" d="M179.9,135 C177,147 175.5,153 173.4,157.1 C170,161 167,162.5 164.4,163.6 C160,165 157,165.8 154.6,166.9 C151,168.5 148.5,170.5 146.4,172.6 C144,175 142,178 140.7,180.8 L139.1,184 M210.1,135 C205,147 200,156 195.4,163.6 C191,170 187,176 183.2,180.8 C179,186 174,190.5 170.1,193.8 C167,196 165.5,197.5 164.4,198.7 C163.5,201 163.3,204 162.8,206.1 C162,207.5 161,208 159.5,207.7 M140.7,190.6 C140.5,197 140.3,204 140.7,210.2 C141.5,213 143.5,214 145.6,213.4 C147.3,212 147.6,205 147.7,190.6 M148.2,191 C148,198 148,206 148.5,211 C149.5,212.5 151,212.8 152.1,211.8 C153,209 153.3,203 153.5,196 M153.5,198.7 C153.8,202 154,205.5 154.6,207.7 C155.5,208.8 157,209 157.9,208.5 C158.4,206 158.6,200 158.7,195 M158.7,195 C158.6,199 158.6,203 158.7,206.9 C159.6,207.8 161,207.8 161.9,206.9 M140.7,190.6 C144,189.5 146,189.5 147.7,190.6 C150,189.5 152,191 153.5,193 L158.7,193.8 C161,193.5 163,194 164.4,195 M153,171 C149,174 145,177.5 142.3,180.8 M159.5,180 C154,182.5 150,185.5 146.4,188.9 M182.4,173.4 C179,178 175.5,182 171.8,184 C167,185.5 162,185.2 158.7,184.8 M139.1,184 C136.5,183.8 135,185 134.8,186.5 C135.5,188.5 138,189 140.5,188.5"/>
 <path stroke="#000" stroke-width="0.8" fill="none" d="M143,197 h1.5 M142.5,204 h1.5 M149.5,195 h1.2 M149.5,201 h1.2 M150,206 h1.2 M155,200 h1.2 M155,204.5 h1.2 M159.8,198 h1.2"/>
 <path d="M133.3,190.6 L138.2,190.6 L138.2,204.4 L133.3,204.4 Z" fill="#f5cdb6" stroke="none"/>
</g>

<!-- ===== R4 ===== -->
<g transform="translate(633,837)" clip-path="url(#rc)">
 <!-- trays at bottom -->
 <path d="M27.5,238 L69.3,205 L107,213 L107,238 Z" fill="#fff" stroke="#000" stroke-width="1.1"/>
 <path d="M31,238 L70,207.4 L107,215.2 M33.5,238 L70.8,209 L107,216.8 M36.5,238 L71.8,210.8 L107,218.6" stroke="#000" stroke-width="0.75" fill="none"/>
 <path d="M29.5,238 L69.6,206.3 M30.3,238 L69.8,206.8" stroke="#000" stroke-width="0.5" fill="none"/>
 <path d="M57.8,220.5 L65,212.6 L87.3,216.8 L80.5,224.8 Z M61.5,220.4 L66,215.5 L84,218.8 L79.5,223.8" stroke="#000" stroke-width="0.9" fill="none"/>
 <path d="M39.9,238 L47,228.2 L71,232.5 L66,238 M44,238 L48.5,231.8 L68,235.3" stroke="#000" stroke-width="0.9" fill="none"/>
 <path d="M73,238 L88,221.8 L106.8,225.6 M80,238 C80,235 84,231 90,227.5 C94,225.5 99,224.5 102,226 C104.5,227.3 104,230 101,233 L97,238 M84,238 C85,235.5 88,232.5 92,230.5 L100,227.6" stroke="#000" stroke-width="0.9" fill="none"/>
 <path d="M84,228.5 L86.5,223.5 L89,225.5 M88,224 L90,222.5" stroke="#000" stroke-width="0.8" fill="none"/>
 <path d="M118.3,238 L131.4,220.6 L190.2,231.2 L191,238 Z" fill="#fff" stroke="#000" stroke-width="1.1"/>
 <path d="M122,238 L132.8,223.3 L189.5,233.5 M125.5,238 L134.2,226 L188.5,235.7 M120,238 L131.9,221.8" stroke="#000" stroke-width="0.75" fill="none"/>
 <path d="M135,238 C136,235 140,233 146,232.5 C152,232 156,233.5 156,236 L155.5,238 M140,238 C141,236.5 144,235.5 148,235.3" stroke="#000" stroke-width="0.9" fill="none"/>
 <path d="M160,238 L164,233.2 L185,236.8 L185,238 M170,238 L171,235" stroke="#000" stroke-width="0.9" fill="none"/>
 <!-- lower pole -->
 <path d="M106.9,97 L130.4,92.2 L130.4,238 L106.9,238 Z" fill="#fff" stroke="#000" stroke-width="1.1"/>
 <path d="M118.6,95 V238" stroke="#000" stroke-width="1"/>
 <path d="M106.9,97 L118.6,97.5 L130.4,92.2" stroke="#000" stroke-width="0.9" fill="none"/>
 <!-- slot -->
 <path d="M108.8,204 V155 C108.8,152.5 110,151 112,151 L115.7,151 V162.7 L113.5,163 C112.5,160 112,157 113,155" stroke="#000" stroke-width="0.9" fill="none"/>
 <path d="M111,163 V204" stroke="#000" stroke-width="0.8"/>
 <rect x="107.3" y="204" width="6.5" height="34" fill="#fff" stroke="#000" stroke-width="1"/>
 <!-- upper pole -->
 <path d="M110.8,39 V97.5 M118.6,39 V97 M125.5,39 V95.5" stroke="#000" stroke-width="1" fill="none"/>
 <path d="M110.8,39 H125.5" stroke="#000" stroke-width="0.9"/>
 <!-- clamp -->
 <path d="M108.8,17.6 L125.5,17.6 L125.5,39.2 L108.8,39.2 Z" fill="#fff" stroke="#000" stroke-width="1"/>
 <path d="M108.8,34 L125.5,34" stroke="#000" stroke-width="0.9"/>
 <path d="M104.5,10 C104.5,7.5 106,6 108.5,6 L124,6.5 L126,11 L125.5,17.6 L106,17.3 C105,17.2 104.5,16 104.5,15 Z" fill="#fff" stroke="#000" stroke-width="1"/>
 <path d="M105,11.5 L125.5,12" stroke="#000" stroke-width="0.9"/>
 <path d="M109.8,6 L110,2 M121,6.3 L121,2 M125.7,6.5 L125.7,2" stroke="#000" stroke-width="1"/>
 <path d="M125.5,2 L125.5,38 C125.5,41 127,42.5 129,41.5 L133,38 L135.5,2" fill="#fff" stroke="#000" stroke-width="1"/>
 <path d="M127,4 L127,36 C127,38.5 128.5,39 130,38" stroke="#000" stroke-width="0.8" fill="none"/>
 <!-- knob collar + knob -->
 <path d="M106.9,98 L118.6,98.5 L118.6,106 L106.9,106 Z" fill="#fff" stroke="#000" stroke-width="0.9"/>
 <path d="M108.5,100 V106 M117,100 V106" stroke="#000" stroke-width="0.7"/>
 <circle cx="110.8" cy="111.8" r="7.4" fill="#f6cbb4" stroke="#000" stroke-width="1"/>
 <!-- red arc -->
 <path d="M72.8,119.5 A36.6,36.6 0 0 1 145.3,117.8" fill="none" stroke="#e2453a" stroke-width="3.6"/>
 <path d="M139.2,117.3 L150.4,117.3 L145.3,125.6 Z" fill="#e2453a"/>
</g>

<!-- ===== R5 ===== -->
<g transform="translate(633,1093)" clip-path="url(#rc)">
 <path d="M19.6,-2 V110 C19.6,119 12,127 2,127.5 M27.1,-2 V110 C27.1,124 15,134 2,134.3" stroke="#000" stroke-width="1.05" fill="none"/>
 <path d="M215.7,-2 V110 C215.7,119 223,127 236,127.5 M208.8,-2 V110 C208.8,124 221,134 236,134.3" stroke="#000" stroke-width="1.05" fill="none"/>
 <rect x="45.1" y="53.9" width="49" height="58.8" fill="#fff" stroke="#000" stroke-width="1.1"/>
 <rect x="50.6" y="59.8" width="38.6" height="47.1" fill="#fff" stroke="#000" stroke-width="1.1"/>
 <path d="M45.1,53.9 L50.6,59.8 M94.1,53.9 L89.2,59.8 M45.1,112.7 L50.6,106.9 M94.1,112.7 L89.2,106.9" stroke="#000" stroke-width="1"/>
 <rect x="72.2" y="68.2" width="7.2" height="32.2" fill="#f8d5c2" stroke="#000" stroke-width="1.1"/>
 <path d="M109.4,86.3 L122,74.5 V82.4 H158.8 V90.6 H122 V99 Z" fill="#e2453a"/>
 <rect x="96.1" y="158.4" width="49.4" height="20" fill="#fff" stroke="#000" stroke-width="1"/>
 <path d="M2,211.8 H236" stroke="#9a9a9a" stroke-width="1.2"/>
 <path d="M2,216.7 H236" stroke="#555" stroke-width="1.2"/>
</g>
<!--/RIGHT-->
<!-- frames -->
<rect class="frame" x="131" y="125" width="447" height="401"/>
<rect class="frame" x="128" y="593" width="446" height="401"/>
<rect class="frame" x="130" y="1113" width="446" height="401"/>
<rect class="frame" x="636" y="85" width="236" height="236"/>
<rect class="frame" x="633" y="332" width="236" height="236"/>
<rect class="frame" x="635" y="586" width="236" height="236"/>
<rect class="frame" x="634" y="838" width="236" height="237"/>
<rect class="frame" x="634" y="1094" width="236" height="236"/>
<!-- red corner triangles -->
<path class="red" d="M132,126 h53 l-53,53 z"/>
<path class="red" d="M129,594 h53 l-53,53 z"/>
<path class="red" d="M131,1114 h53 l-53,53 z"/>
<path class="red" d="M637,86 h57 l-57,57 z"/>
<path class="red" d="M634,333 h57 l-57,57 z"/>
<path class="red" d="M636,587 h57 l-57,57 z"/>
<path class="red" d="M635,839 h57 l-57,57 z"/>
<path class="red" d="M635,1095 h57 l-57,57 z"/>

<rect x="127" y="1575" width="142" height="1.2" fill="#10107e"/>
</svg>
</body></html>
